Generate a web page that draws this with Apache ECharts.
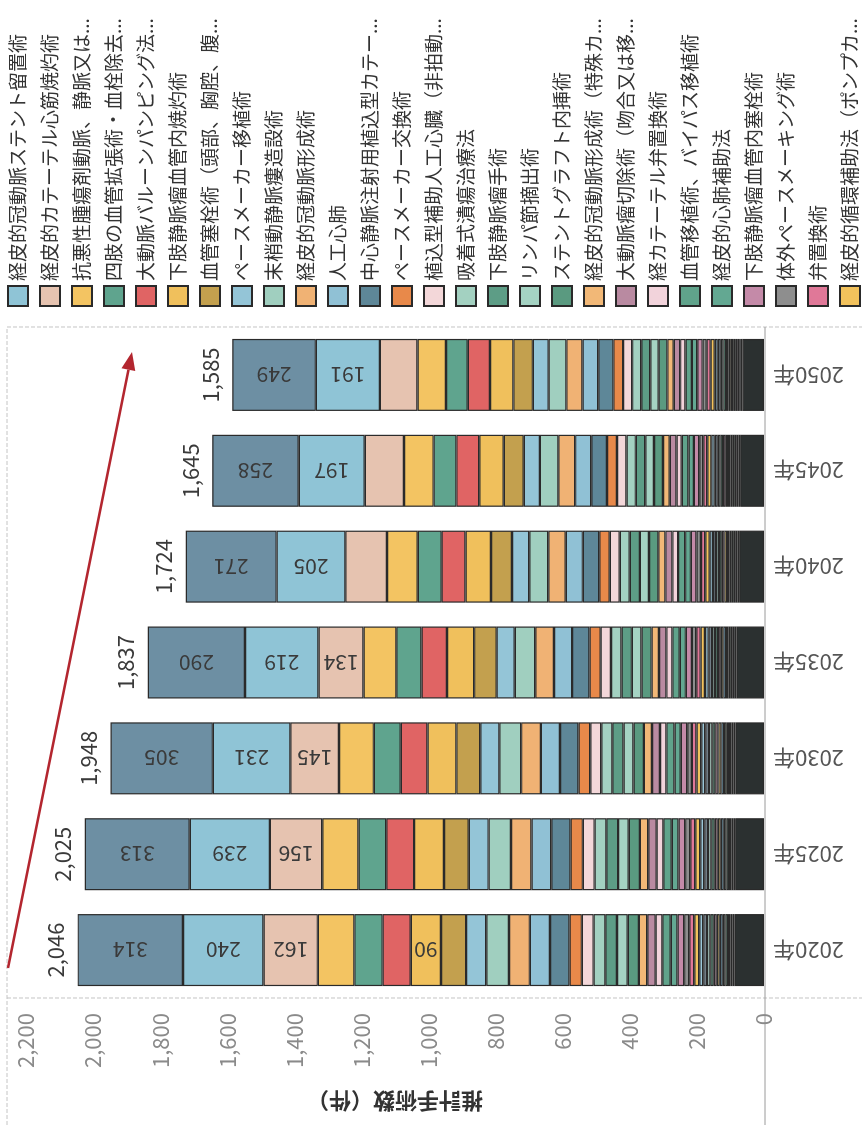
<!DOCTYPE html>
<html>
<head>
<meta charset="utf-8">
<script src="https://cdn.jsdelivr.net/npm/echarts/dist/echarts.min.js"></script>
<style>
html,body{margin:0;padding:0;background:#fff;overflow:hidden;width:862px;height:1125px;}
#chart{position:absolute;left:0;top:0;width:1125px;height:862px;transform-origin:0 0;transform:translateY(1125px) rotate(-90deg);background:#fff;}
</style>
</head>
<body>
<div id="chart"></div>
<script>
// ---------- data ----------
const years = ['2020年','2025年','2030年','2035年','2040年','2045年','2050年'];
const totals = [2046, 2025, 1948, 1837, 1724, 1645, 1585];

// top-most segment (its legend entry lies outside the picture)
const topSeriesName = '上位術式';
const topSeriesValues = [314, 313, 305, 290, 271, 258, 249];

// legend entries, listed from the top of the stack downward
const legendNames = [
  '経皮的冠動脈ステント留置術',
  '経皮的カテーテル心筋焼灼術',
  '抗悪性腫瘍剤動脈、静脈又は...',
  '四肢の血管拡張術・血栓除去術（一...',
  '大動脈バルーンパンピング法（I...',
  '下肢静脈瘤血管内焼灼術',
  '血管塞栓術（頭部、胸腔、腹...',
  'ペースメーカー移植術',
  '末梢動静脈瘻造設術',
  '経皮的冠動脈形成術',
  '人工心肺',
  '中心静脈注射用植込型カテーテ...',
  'ペースメーカー交換術',
  '植込型補助人工心臓（非拍動...',
  '吸着式潰瘍治療法',
  '下肢静脈瘤手術',
  'リンパ節摘出術',
  'ステントグラフト内挿術',
  '経皮的冠動脈形成術（特殊カ...',
  '大動脈瘤切除術（吻合又は移...',
  '経カテーテル弁置換術',
  '血管移植術、バイパス移植術',
  '経皮的心肺補助法',
  '下肢静脈瘤血管内塞栓術',
  '体外ペースメーキング術',
  '弁置換術',
  '経皮的循環補助法（ポンプカテ...'
];
const legendValues = [
  [240,239,231,219,205,197,191],
  [162,156,145,134,124,117,112],
  [109,108,104,98,92,88,85],
  [84,83,80,75,71,68,65],
  [84,83,80,76,71,68,66],
  [90,89,86,81,76,73,70],
  [75,74,71,67,63,60,58],
  [60,59,57,54,51,48,47],
  [68,67,65,61,57,55,53],
  [62,61,59,56,52,50,48],
  [60,59,57,54,51,48,47],
  [58,57,55,52,49,47,45],
  [37,37,35,33,31,30,29],
  [35,35,33,31,30,28,27],
  [35,35,33,31,30,28,27],
  [35,35,33,31,30,28,27],
  [32,32,30,29,27,26,25],
  [33,33,31,30,28,27,26],
  [25,25,24,22,21,20,19],
  [25,25,24,22,21,20,19],
  [20,20,19,18,17,16,16],
  [25,25,24,22,21,20,19],
  [20,20,19,18,17,16,16],
  [20,20,19,18,17,16,16],
  [15,15,14,13,13,12,12],
  [15,15,14,13,13,12,12],
  [15,15,14,13,13,12,12]
];
// thin segments whose legend entries lie outside the picture
const minorValues = [
  [12,12,12,11,10,10,9],
  [11,11,11,10,9,9,9],
  [10,10,10,9,9,8,8],
  [10,10,9,9,8,8,8],
  [9,9,9,8,8,8,7],
  [9,9,9,8,8,7,7],
  [9,9,8,8,7,7,7],
  [8,8,8,7,7,7,6],
  [8,8,7,7,6,6,6],
  [7,7,7,6,6,6,6],
  [6,6,6,6,5,5,5],
  [6,5,6,5,5,5,5]
];
const otherName = 'その他';
const otherValues = [88, 86, 85, 82, 74, 71, 64];

// segment labels: top series shown when >= threshold, plus one annotated value
const labelThreshold = 130;
const annotated = [{ name: '下肢静脈瘤血管内焼灼術', year: '2020年' }];

// ---------- styles ----------
const topColor = '#6d8fa3';
const legendColors = [
  '#8fc4d6','#e6c3b0','#f3c462','#5fa48e','#e06464','#f0c05c','#c3a04e','#94c5d7','#a0cfbf',
  '#f0b274','#90c1d5','#5e8798','#e8894a','#f3d7d9','#a3d1c1','#5d9d86','#a5d3c3','#5a9a80',
  '#f2b877','#b98aa1','#f2d3db','#60a38b','#63a892','#c48aa8','#8e8e8e','#e07898','#f2c25c'
];
const minorColors = ['#9cc7d8','#8a9aa6','#b7d9cf','#6da58e','#c9a0b4','#d8c07a','#7fb0c8','#a5b8a0','#6b8f7d','#c4b2c0','#90a8b0','#5c7f70'];
const otherColor = '#2b3030';
const FONT = '"Noto Sans CJK JP", "Noto Sans", sans-serif';

function barSeries(name, values, color, labelled) {
  const ann = annotated.filter(a => a.name === name).map(a => years.indexOf(a.year));
  return {
    type: 'bar', name: name, stack: 'total', barWidth: 72,
    data: values.map((v, i) => ann.includes(i)
      ? { value: v, label: { show: true, formatter: String(v) } } : v),
    itemStyle: { color: color, borderColor: '#2a2a2a', borderWidth: 1.2 },
    emphasis: { disabled: true },
    label: {
      show: labelled || ann.length > 0, position: 'inside', rotate: 90,
      fontSize: 21, color: '#3a3a3a', fontFamily: FONT,
      formatter: p => (labelled && p.value >= labelThreshold) ? String(p.value) : ''
    }
  };
}

const series = [];
series.push(barSeries(otherName, otherValues, otherColor, false));
for (let i = minorValues.length - 1; i >= 0; i--) {
  series.push(barSeries('術式' + (i + 1), minorValues[i], minorColors[i], false));
}
for (let i = legendNames.length - 1; i >= 0; i--) {
  series.push(barSeries(legendNames[i], legendValues[i], legendColors[i], i < 2));
}
series.push(barSeries(topSeriesName, topSeriesValues, topColor, true));
series.push({
  type: 'line', name: '合計', data: totals, symbol: 'circle', symbolSize: 2, showSymbol: true,
  itemStyle: { color: 'rgba(0,0,0,0)' },
  lineStyle: { opacity: 0 }, z: 10, silent: true,
  label: { show: true, position: 'top', distance: 10, fontSize: 22, color: '#3a3a3a', fontFamily: FONT,
           formatter: p => p.value.toLocaleString('en-US') }
});

// arrow (decoration)
const a0 = [157, 8], a1 = [773, 132];
const dx = a1[0] - a0[0], dy = a1[1] - a0[1], L = Math.hypot(dx, dy);
const ux = dx / L, uy = dy / L, hl = 18, hw = 7;
const bx = a1[0] - ux * hl, by = a1[1] - uy * hl;

const chart = echarts.init(document.getElementById('chart'), null, { renderer: 'canvas' });
chart.setOption({
  backgroundColor: '#fff',
  animation: false,
  textStyle: { fontFamily: FONT },
  grid: { left: 127, top: 26, width: 671, bottom: 98 },
  legend: {
    data: legendNames, orient: 'vertical', left: 818, top: 7, padding: 0,
    itemWidth: 20, itemHeight: 20, itemGap: 10, icon: 'rect',
    selectedMode: false,
    textStyle: { fontSize: 19, color: '#333', fontFamily: FONT, width: 282, overflow: 'truncate' }
  },
  xAxis: {
    type: 'category', data: years,
    axisLine: { show: false }, axisTick: { show: false },
    axisLabel: { rotate: 90, fontSize: 22, color: '#555', margin: 9, fontFamily: FONT }
  },
  yAxis: {
    type: 'value', min: 0, max: 2200, interval: 200,
    name: '推計手術数（件）', nameLocation: 'middle', nameGap: 92,
    nameTextStyle: { fontSize: 22, color: '#333', fontWeight: 'bold', fontFamily: FONT },
    axisLine: { show: false }, axisTick: { show: false }, splitLine: { show: false },
    axisLabel: { fontSize: 22, color: '#8a8a8a', margin: 15, fontFamily: FONT,
                 formatter: v => v.toLocaleString('en-US') }
  },
  graphic: [
    { type: 'line', shape: { x1: 0, y1: 7, x2: 798, y2: 7 }, style: { stroke: '#c4c4c4', lineWidth: 1, lineDash: [4, 2] }, silent: true },
    { type: 'line', shape: { x1: 798, y1: 7, x2: 798, y2: 862 }, style: { stroke: '#c4c4c4', lineWidth: 1, lineDash: [4, 2] }, silent: true },
    { type: 'line', shape: { x1: 127, y1: 7, x2: 127, y2: 862 }, style: { stroke: '#c4c4c4', lineWidth: 1, lineDash: [4, 2] }, silent: true },
    { type: 'line', shape: { x1: 0, y1: 765, x2: 798, y2: 765 }, style: { stroke: '#9a9a9a', lineWidth: 1 }, silent: true },
    { type: 'polyline', shape: { points: [a0, [bx, by]] }, style: { stroke: '#b3262f', lineWidth: 2.5, fill: null }, silent: true, z: 20 },
    { type: 'polygon', shape: { points: [a1, [bx - uy * hw, by + ux * hw], [bx + uy * hw, by - ux * hw]] },
      style: { fill: '#b3262f' }, silent: true, z: 20 }
  ],
  series: series
});
</script>
</body>
</html>
